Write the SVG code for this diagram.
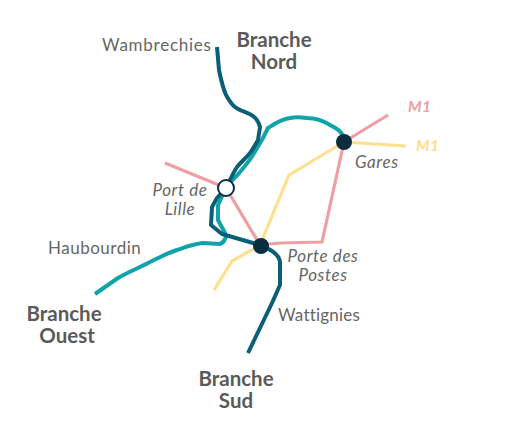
<svg xmlns="http://www.w3.org/2000/svg" width="517" height="436" viewBox="0 0 517 436">
<style>
text{font-family:"Lato","Open Sans",sans-serif;fill:#666;font-size:17px;letter-spacing:.4px}
.b{font-weight:700;font-size:20.5px;fill:#5a5a5a;text-anchor:middle;letter-spacing:0}
.i{font-style:italic;fill:#666;letter-spacing:.6px}
.m{font-style:italic;font-weight:700;font-size:15.5px}
.l{fill:none;stroke-linejoin:round}
.st{fill:#0a2e3f}
</style>
<rect width="517" height="436" fill="#fff"/>
<g id="connectors">
<path class="l" stroke="#ee9fa3" stroke-width="3.2" d="M165 163L226 188L260 245L280 243L322 242L344 142L388 115"/>
<path class="l" stroke="#fde08c" stroke-width="3.2" d="M214 290L232 261L260 245L289 175L344 142L406 146"/>
<path class="l" stroke="#10a3a8" stroke-width="4" d="M345 142C343 132 338 129 330 125C322 120 314 118 307 118C300 117 294 117 290 118C281 119 274 124 268 128L263 138L253 155C248 163 244 167 240 172C235 178 230 182 226 188L218 205L218 220L225 233C226 236 226 238 225 239C224 242 222 243 220 244L203 243C193 244 186 247 177 250C168 253 160 257 150 262C139 268 128 272 118 278L95 294"/>
<path class="l" stroke="#0b5e78" stroke-width="4" d="M217 47L219 70C221 80 223 88 226 95C229 100 231 104 235 107C240 111 247 112 253 116C257 119 259 123 260 127L258 140C255 145 253 149 250 153C246 158 241 162 237 167C233 173 230 180 226 188L217 198L212 207L211 225L222 234L260 245C265 246 268 249 272 251C278 255 280 259 280 263L280 285L272 303L248 353"/>
</g>
<g id="node-port-de-lille"><circle cx="226" cy="188" r="8" fill="#fff" stroke="#0a2e3f" stroke-width="2"/>
<text class="i" x="180" y="196" text-anchor="middle">Port de</text><text class="i" x="180" y="215" text-anchor="middle">Lille</text></g>
<g id="node-gares"><circle class="st" cx="344" cy="142" r="8"/><text class="i" x="355" y="168">Gares</text></g>
<g id="node-porte-des-postes"><circle class="st" cx="261" cy="246" r="8"/>
<text class="i" x="323" y="262" text-anchor="middle">Porte des</text><text class="i" x="323" y="281" text-anchor="middle">Postes</text></g>
<g id="label-wambrechies"><text x="102" y="51" style="letter-spacing:.75px">Wambrechies</text></g>
<g id="label-haubourdin"><text x="48" y="254" style="letter-spacing:.5px">Haubourdin</text></g>
<g id="label-wattignies"><text x="278" y="321" style="letter-spacing:.2px">Wattignies</text></g>
<g id="label-nord"><text class="b" x="274" y="47">Branche</text><text class="b" x="274" y="69">Nord</text></g>
<g id="label-ouest"><text class="b" x="64" y="321">Branche</text><text class="b" x="67" y="343">Ouest</text></g>
<g id="label-sud"><text class="b" x="236" y="386">Branche</text><text class="b" x="236" y="408">Sud</text></g>
<g id="label-m1-pink"><text class="m" x="408" y="112" style="fill:#ee9fa3">M1</text></g>
<g id="label-m1-yellow"><text class="m" x="416" y="151" style="fill:#fde08c">M1</text></g>
</svg>
